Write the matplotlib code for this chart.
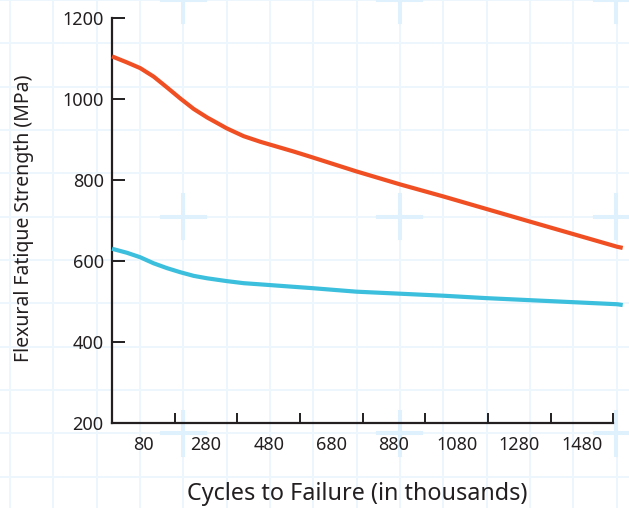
import matplotlib
matplotlib.use("Agg")
import matplotlib.pyplot as plt
import numpy as np

# data (cycles in thousands, strength in MPa)
cycles = [-20, 28, 70, 113, 156, 198, 241, 284, 347, 400, 454, 507, 560, 614,
          760, 899, 1038, 1176, 1314, 1453, 1592, 1610]
upper = [1106, 1091, 1077, 1056, 1029, 1002, 976, 955, 928, 909, 895, 883, 871, 858,
         822, 790, 760, 729, 698, 667, 636, 633]
lower = [631, 621, 610, 595, 583, 573, 564, 558, 551, 546, 543, 540, 537, 534,
         525, 520, 515, 509, 504, 499, 494, 492]

x_labels = ["80", "280", "480", "680", "880", "1080", "1280", "1480"]
x_label_pos = [80, 280, 480, 680, 880, 1080, 1280, 1480]
x_major = [180, 380, 580, 780, 980, 1180, 1380, 1580]
y_ticks = [200, 400, 600, 800, 1000, 1200]

RED = "#f04e23"
BLUE = "#3bbfdc"
INK = "#231f20"
FONT = "Noto Sans"

plt.rcParams["font.family"] = FONT

W, H = 629, 508
fig = plt.figure(figsize=(W / 100, H / 100), dpi=100)
fig.patch.set_facecolor("white")

# graph-paper background
bg = fig.add_axes([0, 0, 1, 1], zorder=-1)
bg.set_xlim(0, W)
bg.set_ylim(H, 0)
bg.axis("off")
step = 43.33
for gx in np.arange(10, W, step):
    bg.axvline(gx, color="#ecf6fd", lw=1.3)
for gy in np.arange(0, H, step):
    bg.axhline(gy, color="#ecf6fd", lw=1.3)
for cx in [183.3, 399.8, 616.3]:
    for cy in [0.0, 216.5, 433.0]:
        bg.plot([cx - 21.5, cx + 21.5], [cy, cy], color="#dff1fc", lw=2.9)
        bg.plot([cx, cx], [cy - 21.5, cy + 21.5], color="#dff1fc", lw=2.9)

ax = fig.add_axes([112 / W, 1 - 423.3 / H, (613.3 - 112) / W, (423.3 - 18.3) / H])
ax.set_facecolor("none")

ax.plot(cycles, upper, color=RED, lw=3.0, solid_capstyle="butt",
        solid_joinstyle="round", clip_on=False, zorder=3)
ax.plot(cycles, lower, color=BLUE, lw=3.0, solid_capstyle="butt",
        solid_joinstyle="round", clip_on=False, zorder=3)

ax.set_xlim(-20, 1580)
ax.set_ylim(200, 1200)

for side in ["top", "right"]:
    ax.spines[side].set_visible(False)
for side in ["left", "bottom"]:
    ax.spines[side].set_color(INK)
    ax.spines[side].set_linewidth(1.6)

ax.set_xticks(x_major)
ax.set_xticklabels([])
ax.set_xticks(x_label_pos, minor=True)
ax.set_xticklabels(x_labels, minor=True)
ax.tick_params(axis="x", which="major", direction="in", length=7.5, width=1.4, color=INK)
ax.tick_params(axis="x", which="minor", length=0, pad=9, labelsize=13, labelcolor=INK)

ax.set_yticks(y_ticks)
ax.tick_params(axis="y", direction="in", length=9, width=1.4, color=INK,
               pad=6, labelsize=13, labelcolor=INK)

fig.text(357 / W, 1 - 494 / H, "Cycles to Failure (in thousands)", ha="center",
         va="center", fontsize=16.8, color=INK)
fig.text(24 / W, 1 - 218.5 / H, "Flexural Fatique Strength (MPa)", ha="center",
         va="center", rotation=90, fontsize=14, color=INK)

fig.savefig("out.png", dpi=100, facecolor="white")
